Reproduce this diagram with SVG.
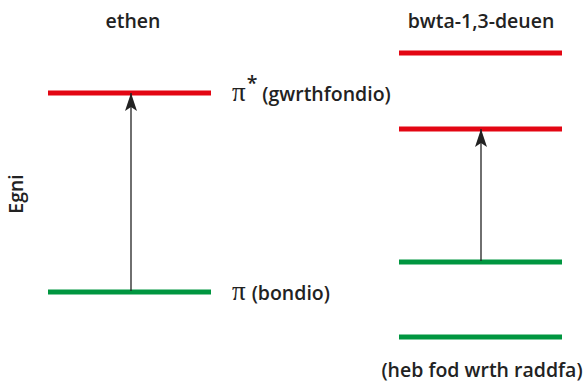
<svg xmlns="http://www.w3.org/2000/svg" width="585" height="386" viewBox="0 0 585 386">
<defs>
<style>
.t{font-family:"Open Sans","Liberation Sans",sans-serif;font-weight:600;font-size:19.5px;fill:#222}
.pi{font-family:"Liberation Serif",serif;font-weight:400;font-size:27px;fill:#222}
.red{stroke:#e30613;stroke-width:5}
.green{stroke:#009640;stroke-width:5}
.arr{stroke:#222;stroke-width:1.3;fill:none;marker-end:url(#ah)}
</style>
<marker id="ah" viewBox="0 0 18 12" refX="18" refY="6" markerWidth="18" markerHeight="12" markerUnits="userSpaceOnUse" orient="auto">
<path d="M0,0 L18,6 L0,12 L4,6 Z" fill="#222"/>
</marker>
</defs>
<rect width="585" height="386" fill="#fff"/>
<g id="labels">
<text class="t" x="133" y="28" text-anchor="middle">ethen</text>
<text class="t" x="481" y="28" text-anchor="middle">bwta-1,3-deuen</text>
<text class="t" x="482" y="377" text-anchor="middle">(heb fod wrth raddfa)</text>
<text class="t" transform="translate(23,194) rotate(-90)" text-anchor="middle">Egni</text>
</g>
<g id="ethene-pistar"><line class="red" x1="48" y1="93" x2="211" y2="93"/>
<text x="232" y="101"><tspan class="pi">π</tspan><tspan class="t" dy="-11" dx="1" font-size="14">*</tspan><tspan class="t" dy="11" dx="5">(gwrthfondio)</tspan></text></g>
<g id="ethene-pi"><line class="green" x1="48" y1="292" x2="211" y2="292"/>
<text x="232" y="300"><tspan class="pi">π</tspan><tspan class="t" dx="6">(bondio)</tspan></text></g>
<g id="bd-4"><line class="red" x1="399" y1="53" x2="562" y2="53"/></g>
<g id="bd-3"><line class="red" x1="399" y1="129" x2="562" y2="129"/></g>
<g id="bd-2"><line class="green" x1="399" y1="262" x2="562" y2="262"/></g>
<g id="bd-1"><line class="green" x1="399" y1="337" x2="562" y2="337"/></g>
<g id="connectors">
<line class="arr" x1="131" y1="291" x2="131" y2="93"/>
<line class="arr" x1="481" y1="261" x2="481" y2="129"/>
</g>
</svg>
